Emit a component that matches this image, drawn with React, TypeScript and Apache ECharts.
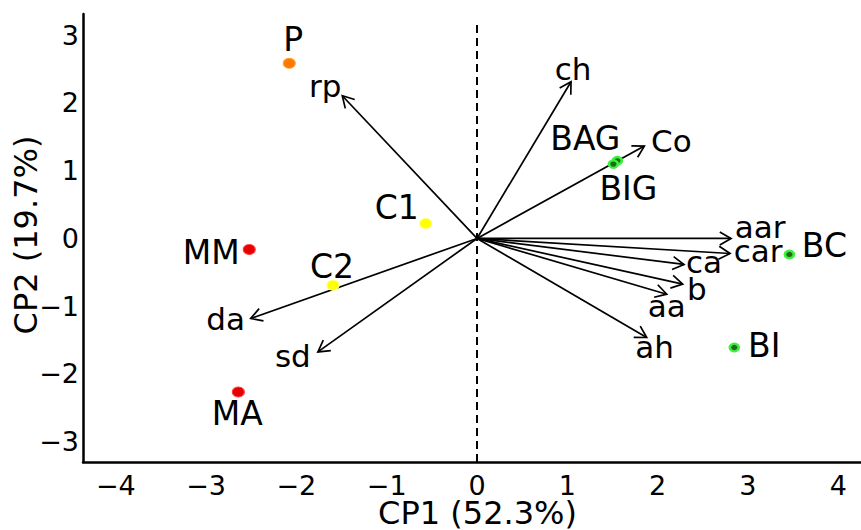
import React, { useEffect, useRef } from 'react';
import * as echarts from 'echarts';

// ---- Data ----
const sampleNames = ['P', 'MM', 'MA', 'C1', 'C2', 'BAG', 'BIG', 'BC', 'BI'];
const sampleCP1 = [-2.079, -2.522, -2.643, -0.568, -1.595, 1.554, 1.51, 3.459, 2.849];
const sampleCP2 = [2.585, -0.162, -2.266, 0.222, -0.69, 1.146, 1.097, -0.236, -1.61];
const sampleGroups = ['orange', 'red', 'red', 'yellow', 'yellow', 'green', 'green', 'green', 'green'];

const variableNames = ['rp', 'ch', 'Co', 'aar', 'car', 'ca', 'b', 'aa', 'ah', 'da', 'sd'];
const loadingCP1 = [-1.492, 1.041, 1.853, 2.813, 2.802, 2.292, 2.278, 2.101, 1.879, -2.506, -1.762];
const loadingCP2 = [2.106, 2.313, 1.363, 0.0, -0.222, -0.384, -0.675, -0.823, -1.462, -1.182, -1.675];

const xTitle = 'CP1 (52.3%)';
const yTitle = 'CP2 (19.7%)';

// ---- Styles (pixel offsets of labels, colours) ----
const sampleLabelOffsets: Record<string, [number, number]> = {
  P: [4, -24],
  MM: [-38, 3],
  MA: [-1, 22],
  C1: [-29, -16],
  C2: [-1, -19],
  BAG: [-32, -22],
  BIG: [15, 24],
  BC: [35, -9],
  BI: [30, -2],
};
const variableLabelOffsets: Record<string, [number, number]> = {
  rp: [-17, -10],
  ch: [2, -13],
  Co: [27, -5],
  aar: [29, -11],
  car: [28, -2],
  ca: [20, -2],
  b: [14, 5],
  aa: [0, 12],
  ah: [8, 10],
  da: [-25, 0],
  sd: [-25, 4],
};
const groupStyle: Record<string, { fill: string; border: string; bw: number; size: [number, number] }> = {
  orange: { fill: '#ff7800', border: '#ffa030', bw: 1, size: [12, 10] },
  red: { fill: '#e80000', border: '#ff3a3a', bw: 1, size: [12, 10] },
  yellow: { fill: '#ffff00', border: '#ffff70', bw: 1, size: [12, 10] },
  green: { fill: '#1f6a1f', border: '#3cf03c', bw: 2.5, size: [9, 7.5] },
};

const FONT = 'DejaVu Sans';

export default function App() {
  const ref = useRef<HTMLDivElement>(null);
  useEffect(() => {
    if (!ref.current) return;
    const chart = echarts.init(ref.current, null, { renderer: 'svg' });

    const xMin = -4.363;
    const xMax = 4.252;
    const yMin = -3.3;
    const yMax = 3.313;

    const intLabel = (v: number) => (Math.abs(v - Math.round(v)) < 1e-6 ? String(Math.round(v)).replace('-', '\u2212') : '');

    const scatterData = sampleNames.map((n, i) => {
      const st = groupStyle[sampleGroups[i]];
      return {
        name: n,
        value: [sampleCP1[i], sampleCP2[i]],
        symbolSize: st.size,
        itemStyle: { color: st.fill, borderColor: st.border, borderWidth: st.bw, opacity: 1 },
        label: {
          show: true,
          formatter: n,
          position: 'inside',
          offset: sampleLabelOffsets[n],
          color: '#000',
          fontFamily: FONT,
          fontSize: 33,
          textBorderWidth: 0,
        },
      };
    });

    const arrowData = variableNames.map((n, i) => ({ name: n, value: [loadingCP1[i], loadingCP2[i]] }));

    const option: any = {
      animation: false,
      backgroundColor: '#ffffff',
      grid: { left: 83, right: 0, top: 14, bottom: 68, containLabel: false, outerBoundsMode: 'none' },
      xAxis: {
        type: 'value',
        min: xMin,
        max: xMax,
        splitNumber: 8,
        name: xTitle,
        nameLocation: 'middle',
        nameGap: 36,
        nameMoveOverlap: false,
        nameTextStyle: { fontFamily: FONT, fontSize: 32, lineHeight: 30, color: '#000', padding: [0, 0, 0, 11] },
        axisLine: { show: true, onZero: false, lineStyle: { color: '#000', width: 2.5 } },
        axisTick: { show: false },
        splitLine: { show: false },
        axisLabel: {
          fontFamily: FONT,
          fontSize: 27,
          lineHeight: 24,
          color: '#000',
          margin: 11,
          showMinLabel: false,
          showMaxLabel: false,
          formatter: intLabel,
        },
      },
      yAxis: {
        type: 'value',
        min: yMin,
        max: yMax,
        splitNumber: 7,
        name: yTitle,
        nameLocation: 'middle',
        nameGap: 41,
        nameMoveOverlap: false,
        nameTextStyle: { fontFamily: FONT, fontSize: 32, color: '#000', padding: [0, 0, 0, 6] },
        axisLine: { show: true, onZero: false, lineStyle: { color: '#000', width: 2.5 } },
        axisTick: { show: false },
        splitLine: { show: false },
        axisLabel: {
          fontFamily: FONT,
          fontSize: 27,
          color: '#000',
          margin: 4,
          padding: [0, 0, 7, 0],
          showMinLabel: false,
          showMaxLabel: false,
          formatter: intLabel,
        },
      },
      series: [
        {
          type: 'line',
          data: [
            [0, yMin],
            [0, 3.2],
          ],
          symbol: 'none',
          silent: true,
          lineStyle: { color: '#000', width: 2, type: [8, 5] },
          z: 1,
        },
        {
          type: 'custom',
          coordinateSystem: 'cartesian2d',
          data: arrowData,
          encode: { x: 0, y: 1 },
          silent: true,
          z: 2,
          renderItem: (params: any, api: any) => {
            const o = api.coord([0, 0]);
            const t = api.coord([api.value(0), api.value(1)]);
            const ang = Math.atan2(t[1] - o[1], t[0] - o[0]);
            const L = 13;
            const A = Math.PI / 6;
            const p1 = [t[0] - L * Math.cos(ang - A), t[1] - L * Math.sin(ang - A)];
            const p2 = [t[0] - L * Math.cos(ang + A), t[1] - L * Math.sin(ang + A)];
            const name = variableNames[params.dataIndex];
            const off = variableLabelOffsets[name];
            return {
              type: 'group',
              children: [
                {
                  type: 'line',
                  shape: { x1: o[0], y1: o[1], x2: t[0], y2: t[1] },
                  style: { stroke: '#000', lineWidth: 1.7 },
                },
                {
                  type: 'polyline',
                  shape: { points: [p1, t, p2] },
                  style: { stroke: '#000', lineWidth: 1.7, fill: null },
                },
                {
                  type: 'text',
                  x: t[0] + off[0],
                  y: t[1] + off[1],
                  style: {
                    text: name,
                    fill: '#000',
                    fontFamily: FONT,
                    fontSize: 31,
                    align: 'center',
                    verticalAlign: 'middle',
                  },
                },
              ],
            };
          },
        },
        {
          type: 'scatter',
          data: scatterData,
          symbol: 'circle',
          silent: true,
          z: 3,
        },
      ],
    };

    chart.setOption(option);
    return () => chart.dispose();
  }, []);

  return <div ref={ref} style={{ position: 'absolute', left: 0, top: 0, width: 861, height: 530 }} />;
}
